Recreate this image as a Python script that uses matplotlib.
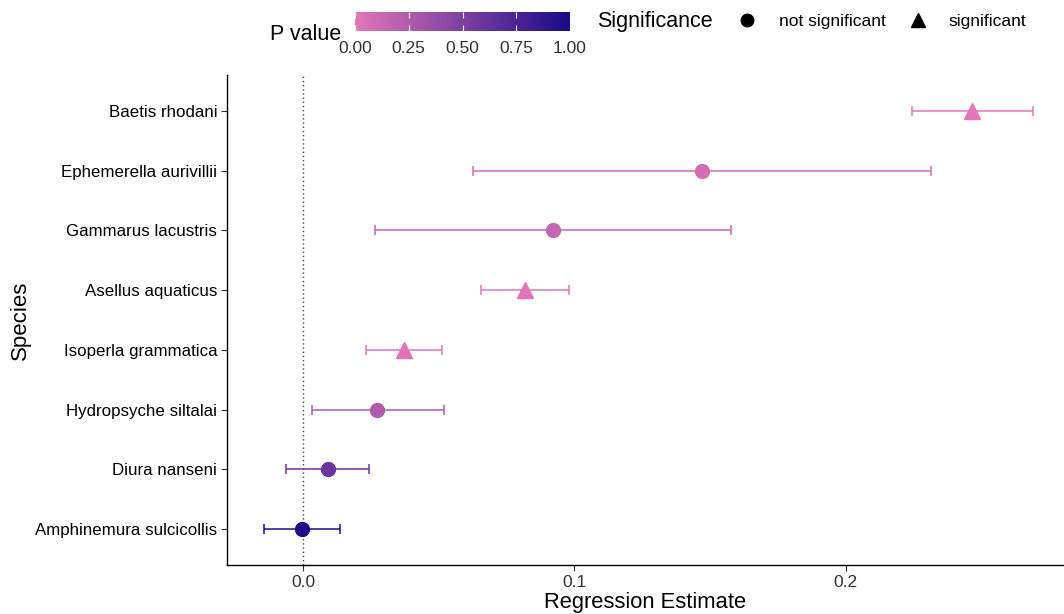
import matplotlib
matplotlib.use("Agg")
import matplotlib.pyplot as plt
import numpy as np
from matplotlib.colors import LinearSegmentedColormap, Normalize
from matplotlib.cm import ScalarMappable
from matplotlib.lines import Line2D

plt.rcParams['font.family'] = ['Liberation Sans', 'DejaVu Sans']

species = ["Baetis rhodani", "Ephemerella aurivillii", "Gammarus lacustris",
           "Asellus aquaticus", "Isoperla grammatica", "Hydropsyche siltalai",
           "Diura nanseni", "Amphinemura sulcicollis"]
estimate = [0.2467, 0.1470, 0.0921, 0.0817, 0.0370, 0.0273, 0.0089, -0.0006]
ci_low = [0.2244, 0.0627, 0.0265, 0.0654, 0.0230, 0.0030, -0.0063, -0.0144]
ci_high = [0.2690, 0.2315, 0.1579, 0.0979, 0.0510, 0.0520, 0.0241, 0.0135]
p_value = [0.001, 0.08, 0.15, 0.01, 0.02, 0.25, 0.60, 0.97]
significant = [True, False, False, True, True, False, False, False]

cmap = LinearSegmentedColormap.from_list("pv", ["#E376B8", "#180A88"])
norm = Normalize(0, 1)

fig = plt.figure(figsize=(10.64, 6.14), dpi=100)
ax = fig.add_axes([227/1064, 1-565/614, 1-227/1064, (565-75)/614])

n = len(species)
ypos = np.arange(n)[::-1]
for i in range(n):
    c = cmap(norm(p_value[i]))
    ax.errorbar(estimate[i], ypos[i],
                xerr=[[estimate[i]-ci_low[i]], [ci_high[i]-estimate[i]]],
                fmt='none', ecolor=c, elinewidth=1.3, capsize=3.5, capthick=1.3,
                alpha=0.85, zorder=2)
    if significant[i]:
        ax.plot(estimate[i], ypos[i], marker='^', ms=11.5, color=c, ls='none', zorder=3)
    else:
        ax.plot(estimate[i], ypos[i], marker='o', ms=10, color=c, ls='none', zorder=3)

ax.axvline(0, color='#444444', ls=(0, (1, 2)), lw=1, zorder=1)
ax.set_yticks(ypos)
ax.set_yticklabels(species, fontsize=12.2)
ax.set_ylim(-0.6, n - 0.4)
ax.set_xlim(-0.0282, 0.2806)
ax.set_xticks([0.0, 0.1, 0.2])
ax.set_xticklabels(["0.0", "0.1", "0.2"], fontsize=12.5, color='#333333')
ax.tick_params(axis='both', length=4, width=0.8, color='#333333')
ax.tick_params(axis='y', labelcolor='black', pad=3)
ax.set_xlabel("Regression Estimate", fontsize=15.8, labelpad=1)
ax.set_ylabel("Species", fontsize=16)
ax.yaxis.set_label_coords((31 - 227) / 837, 0.5)
for s in ['top', 'right']:
    ax.spines[s].set_visible(False)
for s in ['left', 'bottom']:
    ax.spines[s].set_linewidth(1.0)

# colorbar legend
cax = fig.add_axes([355/1064, 1-31/614, 215/1064, 19/614])
cb = fig.colorbar(ScalarMappable(norm=norm, cmap=cmap), cax=cax, orientation='horizontal')
cb.set_ticks([0, 0.25, 0.5, 0.75, 1.0])
cb.set_ticklabels(["0.00", "0.25", "0.50", "0.75", "1.00"])
cb.outline.set_visible(False)
cax.tick_params(direction='in', color='white', length=4, width=0.8, labelsize=12.5,
                labelcolor='#333333', pad=7, top=True)
fig.text(270/1064, 1-35/614, "P value", fontsize=15.5, va='center', ha='left')

# shape legend
fig.text(597/1064, 1-21/614, "Significance", fontsize=15.5, va='center', ha='left')
handles = [Line2D([], [], marker='o', ls='none', color='black', ms=9),
           Line2D([], [], marker='^', ls='none', color='black', ms=10)]
fig.legend(handles, ["not significant", "significant"], loc='center left',
           bbox_to_anchor=(737/1064, 1-21/614), ncol=2, frameon=False,
           fontsize=12.5, handletextpad=1.2, columnspacing=1.25, borderpad=0,
           borderaxespad=0, handlelength=1.2)

fig.savefig("out.png", dpi=100)
